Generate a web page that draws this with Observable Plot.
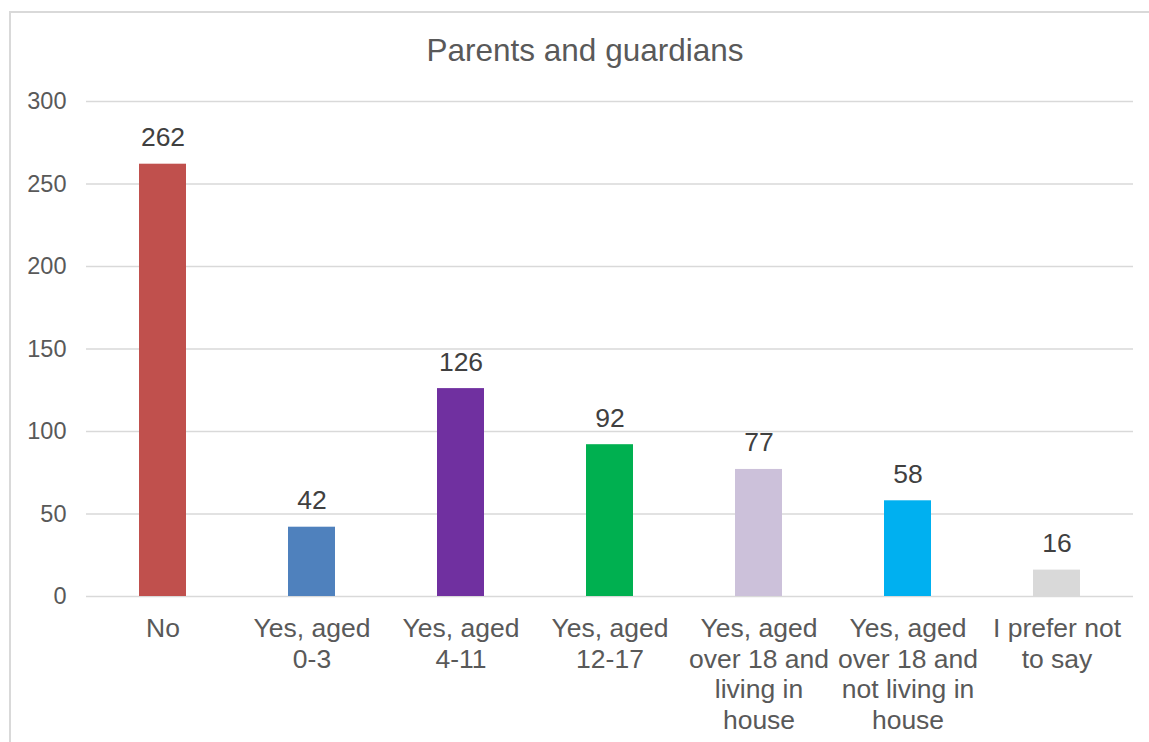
<!DOCTYPE html>
<html>
<head>
<meta charset="utf-8">
<script src="https://cdn.jsdelivr.net/npm/d3@7"></script>
<script src="https://cdn.jsdelivr.net/npm/@observablehq/plot@0.6"></script>
<style>
  html, body { margin: 0; padding: 0; background: #fff; }
  #wrap { position: relative; width: 1149px; height: 742px; overflow: hidden; font-family: "Liberation Sans", Arial, sans-serif; }
  #frame { position: absolute; left: 9px; top: 11px; width: 1200px; height: 800px; border: 2px solid #d9d9d9; box-sizing: border-box; }
  #title { position: absolute; left: 0; width: 1170px; top: 32px; text-align: center; font-size: 31.5px; color: #595959; line-height: 36px; }
  #chart { position: absolute; left: 0; top: 0; }
</style>
</head>
<body>
<div id="wrap">
  <div id="frame"></div>
  <div id="title">Parents and guardians</div>
  <div id="chart"></div>
</div>
<script>
const categories = ["No", "Yes, aged 0-3", "Yes, aged 4-11", "Yes, aged 12-17", "Yes, aged over 18 and living in house", "Yes, aged over 18 and not living in house", "I prefer not to say"];
const tickLabels = ["No", "Yes, aged\n0-3", "Yes, aged\n4-11", "Yes, aged\n12-17", "Yes, aged\nover 18 and\nliving in\nhouse", "Yes, aged\nover 18 and\nnot living in\nhouse", "I prefer not\nto say"];
const values = [262, 42, 126, 92, 77, 58, 16];
const colors = ["#C0504D", "#4F81BD", "#7030A0", "#00B050", "#CCC1DA", "#00B0F0", "#D9D9D9"];
const yTicks = [0, 50, 100, 150, 200, 250, 300];

const data = categories.map((c, i) => ({category: c, value: values[i], color: colors[i]}));
const labelOf = new Map(categories.map((c, i) => [c, tickLabels[i]]));

const chart = Plot.plot({
  width: 1149,
  height: 742,
  marginLeft: 86,
  marginRight: 16,
  marginTop: 101,
  marginBottom: 146,
  style: {fontFamily: "'Liberation Sans', Arial, sans-serif", background: "transparent", color: "#595959"},
  x: {domain: categories, paddingInner: 0.685, paddingOuter: 0.3425, label: null},
  y: {domain: [0, 300], ticks: yTicks, label: null},
  marks: [
    Plot.gridY(yTicks, {stroke: "#d9d9d9", strokeOpacity: 1, strokeWidth: 1.5}),
    Plot.barY(data, {x: "category", y: "value", fill: "color"}),
    Plot.text(data, {x: "category", y: "value", text: d => String(d.value), lineAnchor: "bottom", dy: -18, fontSize: 26.5, fill: "#404040"}),
    Plot.axisY(yTicks, {tickSize: 0, tickPadding: 20, fontSize: 23.5, fill: "#595959", label: null}),
    Plot.axisX({tickSize: 0, tickPadding: 19, fontSize: 26.5, lineHeight: 1.15, fill: "#595959", tickFormat: d => labelOf.get(d), label: null})
  ]
});
document.getElementById("chart").appendChild(chart);
</script>
</body>
</html>
